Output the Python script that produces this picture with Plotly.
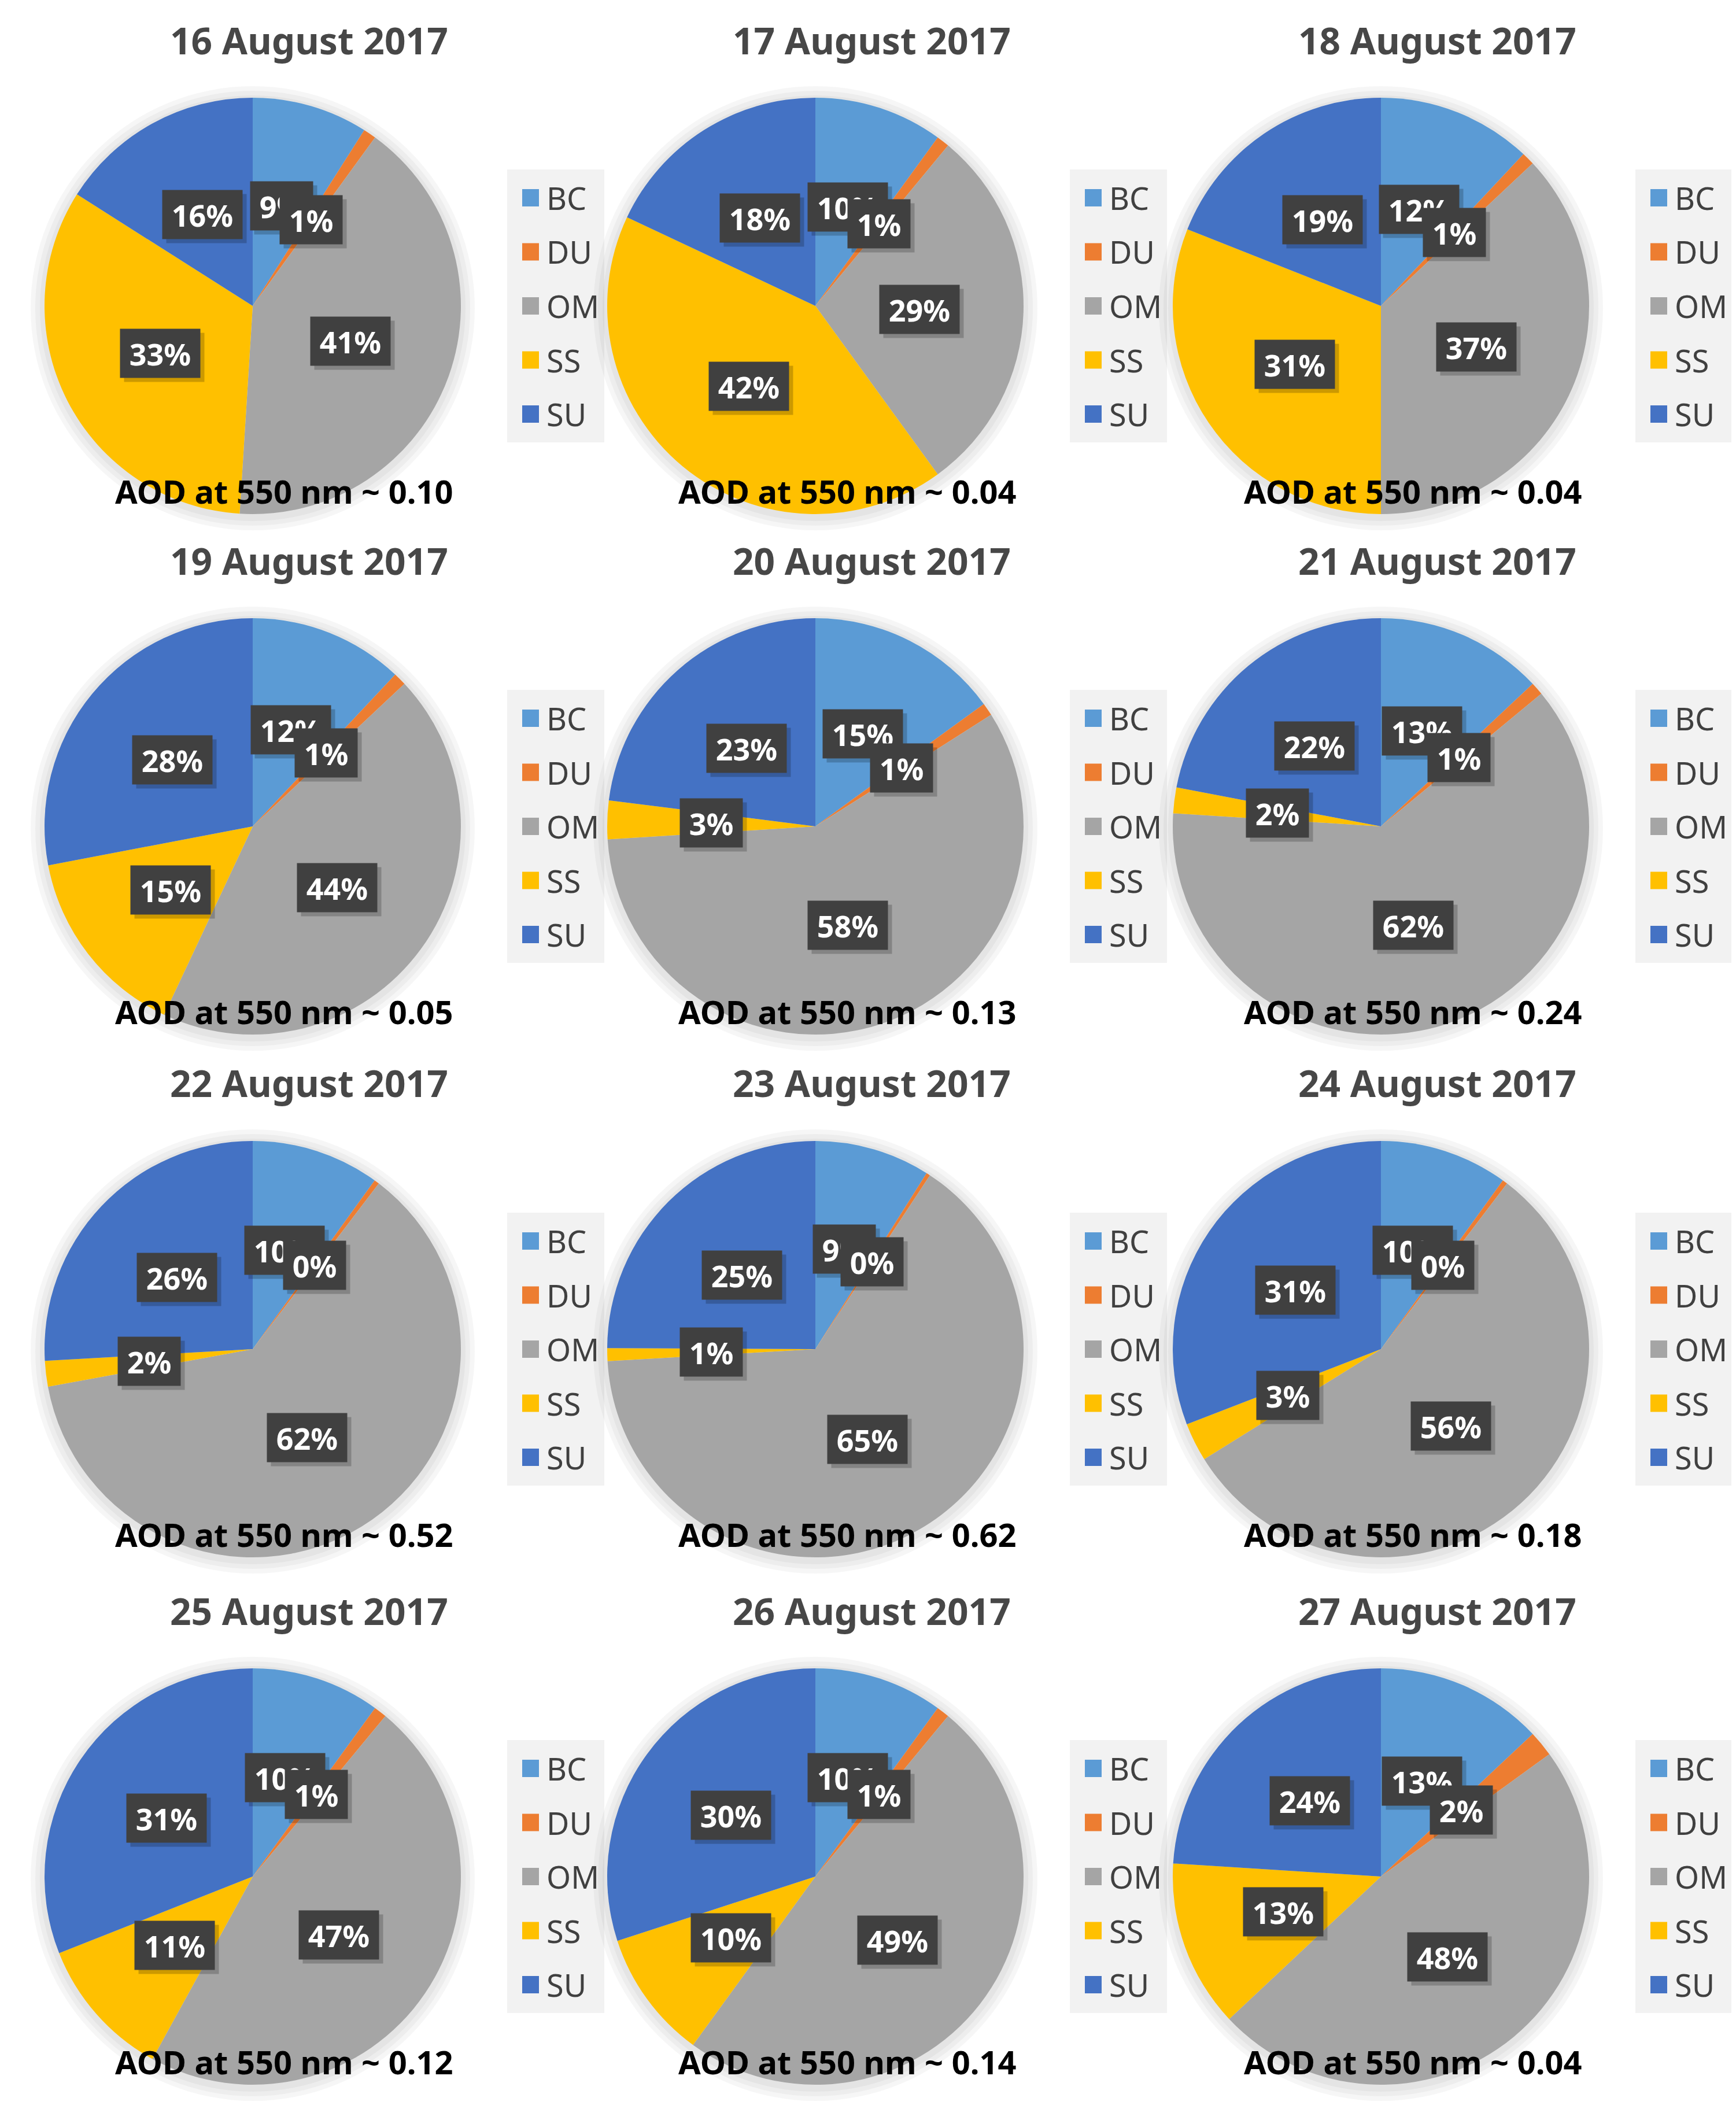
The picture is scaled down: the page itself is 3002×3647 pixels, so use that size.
import plotly.graph_objects as go
import math

# aerosol species and their colours (Excel office palette)
species = ["BC", "DU", "OM", "SS", "SU"]
colors = ["#5B9BD5", "#ED7D31", "#A5A5A5", "#FFC000", "#4472C4"]

dates = ["16 August 2017", "17 August 2017", "18 August 2017",
         "19 August 2017", "20 August 2017", "21 August 2017",
         "22 August 2017", "23 August 2017", "24 August 2017",
         "25 August 2017", "26 August 2017", "27 August 2017"]
aod = [0.10, 0.04, 0.04, 0.05, 0.13, 0.24, 0.52, 0.62, 0.18, 0.12, 0.14, 0.04]

# contribution (%) of each species per day
bc = [9, 10, 12, 12, 15, 13, 10, 9, 10, 10, 10, 13]
du = [1, 1, 1, 1, 1, 1, 0.4, 0.3, 0.4, 1, 1, 2]
om = [41, 29, 37, 44, 58, 62, 62, 65, 56, 47, 49, 48]
ss = [33, 42, 31, 15, 3, 2, 2, 1, 3, 11, 10, 13]
su = [16, 18, 19, 28, 23, 22, 26, 25, 31, 31, 30, 24]

W, H = 3002, 3647
col_x = [429, 1402, 2380]
row_y = [521, 1421, 2325, 3237]
R = 360
FONT = "Noto Sans"


def px(x):
    return x / W


def py(y):
    return 1 - y / H


fig = go.Figure()
annotations = []
shapes = []

for i, date in enumerate(dates):
    cx = col_x[i % 3]
    cy = row_y[i // 3]
    vals = [bc[i], du[i], om[i], ss[i], su[i]]
    total = sum(vals)

    # soft shadow under the pie (a few faint discs)
    for pad in (24, 16, 8):
        fig.add_trace(go.Pie(
            values=[total], labels=["shadow"],
            marker=dict(colors=["rgba(0,0,0,0.035)"], line=dict(width=0)),
            textinfo="none", hoverinfo="skip", showlegend=False, sort=False,
            domain=dict(x=[px(cx - R - pad), px(cx + R + pad)],
                        y=[py(cy + 4 + R + pad), py(cy + 4 - R - pad)]),
        ))

    fig.add_trace(go.Pie(
        labels=species, values=vals,
        marker=dict(colors=colors, line=dict(width=0)),
        sort=False, direction="clockwise", rotation=0,
        textinfo="none", hoverinfo="label+percent", showlegend=False,
        domain=dict(x=[px(cx - R), px(cx + R)], y=[py(cy + R), py(cy - R)]),
        name=date,
    ))

    # data labels: dark boxes at half radius on the slice mid angle
    cum = 0
    for v in vals:
        th = 2 * math.pi * (cum + v / 2) / total
        cum += v
        lx = cx + 0.5 * R * math.sin(th)
        ly = cy - 0.5 * R * math.cos(th)
        txt = "%d%%" % round(100 * v / total)
        bw = 30 * (len(txt) - 1) + 54
        base = dict(x=px(lx), y=py(ly), xref="paper", yref="paper",
                    showarrow=False, xanchor="center", yanchor="middle",
                    borderpad=12, height=60, width=bw)
        annotations.append(dict(base, text="&nbsp;", xshift=7, yshift=-7,
                                bgcolor="rgba(0,0,0,0.2)",
                                font=dict(family=FONT, size=52, color="rgba(0,0,0,0)")))
        annotations.append(dict(base, text=txt, bgcolor="#404040",
                                font=dict(family=FONT, size=52, color="white", weight="bold")))

    # title and AOD note
    annotations.append(dict(x=px(cx + 97), y=py(cy - 460), xref="paper", yref="paper",
                            text=date, showarrow=False, xanchor="center", yanchor="middle",
                            font=dict(family=FONT, size=64, color="#474747", weight="bold")))
    annotations.append(dict(x=px(cx + 55), y=py(cy + 320), xref="paper", yref="paper",
                            text="AOD at 550 nm ~ %.2f" % aod[i], showarrow=False,
                            xanchor="center", yanchor="middle",
                            font=dict(family=FONT, size=56, color="black", weight="bold")))

    # legend box
    shapes.append(dict(type="rect", xref="paper", yref="paper",
                       x0=px(cx + 440), x1=px(cx + 608), y0=py(cy + 236), y1=py(cy - 236),
                       fillcolor="#F2F2F2", line=dict(width=0), layer="below"))
    for k, (name, col) in enumerate(zip(species, colors)):
        iy = cy - 187 + k * 93.5
        shapes.append(dict(type="rect", xref="paper", yref="paper",
                           x0=px(cx + 466), x1=px(cx + 495), y0=py(iy + 15), y1=py(iy - 15),
                           fillcolor=col, line=dict(width=0)))
        annotations.append(dict(x=px(cx + 506), y=py(iy), xref="paper", yref="paper",
                                text=name, showarrow=False, xanchor="left", yanchor="middle",
                                font=dict(family=FONT, size=54, color="#404040")))

fig.update_layout(
    width=W, height=H,
    margin=dict(l=0, r=0, t=0, b=0),
    paper_bgcolor="white", plot_bgcolor="white",
    annotations=annotations, shapes=shapes,
    showlegend=False,
)

fig.write_html("out.html")
